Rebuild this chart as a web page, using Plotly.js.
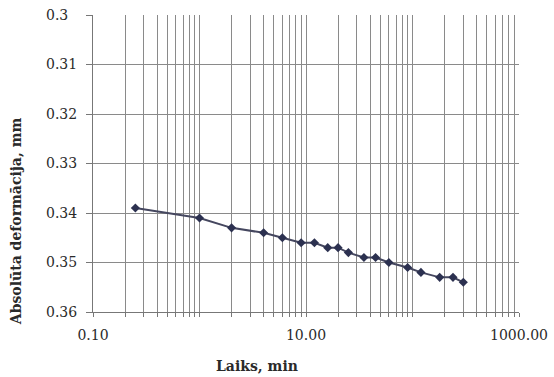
<!DOCTYPE html>
<html>
<head>
<meta charset="utf-8">
<script src="https://cdn.plot.ly/plotly-3.0.1.min.js"></script>
<style>html,body{margin:0;padding:0;background:#fff;}#chart{width:554px;height:377px;}</style>
</head>
<body>
<div id="chart"></div>
<script>
// Data
var timeMin = [0.25, 1, 2, 4, 6, 9, 12, 16, 20, 25, 35, 45, 60, 90, 120, 180, 240, 300];
var deformationMm = [0.339, 0.341, 0.343, 0.344, 0.345, 0.346, 0.346, 0.347, 0.347, 0.348, 0.349, 0.349, 0.350, 0.351, 0.352, 0.353, 0.353, 0.354];
var xTickLabels = {"0.1": "0.10", "10": "10.00", "1000": "1000.00"};
var yTickVals = [0.30, 0.31, 0.32, 0.33, 0.34, 0.35, 0.36];
var yTickText = ["0.3\u2007", "0.31", "0.32", "0.33", "0.34", "0.35", "0.36"];
var xTitle = "Laiks, min";
var yTitle = "Absolūta deformācija, mm";

// log gridline positions (1..9 per decade)
var xTickVals = [], xTickText = [];
for (var e = -1; e < 3; e++) {
  for (var m = 1; m <= 9; m++) {
    var v = parseFloat((m * Math.pow(10, e)).toPrecision(6));
    xTickVals.push(v);
    xTickText.push(xTickLabels[String(v)] || "");
  }
}
xTickVals.push(1000); xTickText.push(xTickLabels["1000"]);

var font = "DejaVu Serif";
var txt = "#2a2a2a";
var trace = {
  x: timeMin, y: deformationMm, type: "scatter", mode: "lines+markers",
  line: {color: "#45475f", width: 2},
  marker: {symbol: "diamond", size: 7, color: "#2c3150"},
  hoverinfo: "skip"
};
var layout = {
  width: 554, height: 377,
  margin: {l: 93, r: 35, t: 15, b: 65},
  paper_bgcolor: "#fff", plot_bgcolor: "#fff",
  showlegend: false,
  font: {family: font, size: 14, color: txt},
  xaxis: {
    type: "log", range: [-1, 3],
    tickmode: "array", tickvals: xTickVals, ticktext: xTickText,
    showgrid: true, gridcolor: "#8a8a8a", gridwidth: 1,
    showline: true, linecolor: "#777", linewidth: 1,
    ticks: "outside", ticklen: 4, tickcolor: "#777",
    ticklabelstandoff: 6,
    zeroline: false, tickfont: {family: font, size: 14, color: txt}
  },
  yaxis: {
    range: [0.36, 0.30],
    tickmode: "array", tickvals: yTickVals, ticktext: yTickText,
    showgrid: true, gridcolor: "#8a8a8a", gridwidth: 1,
    showline: true, linecolor: "#777", linewidth: 1,
    ticks: "outside", ticklen: 6, tickcolor: "#777",
    ticklabelstandoff: 6,
    zeroline: false, tickfont: {family: font, size: 14, color: txt}
  },
  annotations: [
    {text: "<b>" + xTitle + "</b>", xref: "paper", yref: "paper", x: 0.384, y: -0.182,
     xanchor: "center", yanchor: "middle", showarrow: false, font: {family: font, size: 14, color: txt}},
    {text: "<b>" + yTitle + "</b>", xref: "paper", yref: "paper", x: -0.179, y: 0.305,
     xanchor: "center", yanchor: "middle", textangle: -90, showarrow: false, font: {family: font, size: 14, color: txt}}
  ]
};
Plotly.newPlot("chart", [trace], layout, {displayModeBar: false, staticPlot: true});
</script>
</body>
</html>
